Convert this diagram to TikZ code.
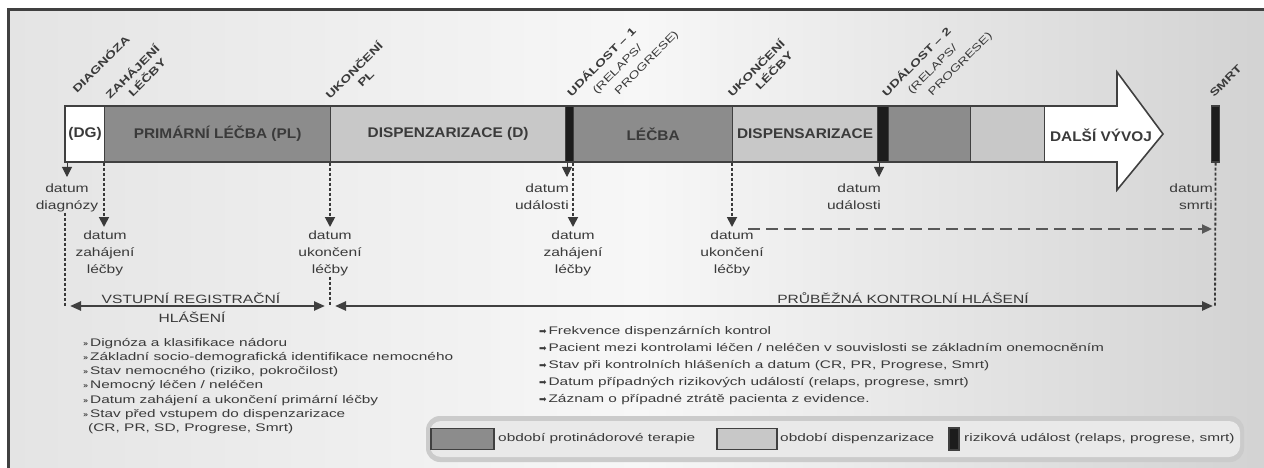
\documentclass[tikz,border=0pt]{standalone}
\usepackage{graphicx}
\usepackage{fontspec}
\setmainfont{Liberation Sans}
\newfontfamily\barfont{Liberation Sans}[FakeStretch=1.1]
\newfontfamily\tagfont{Liberation Sans}[FakeStretch=1.35]
\newfontfamily\datefont{Liberation Sans}[FakeStretch=1.3]
\newfontfamily\listfont{Liberation Sans}[FakeStretch=1.4]
\newfontfamily\symfont{DejaVu Sans}
\usetikzlibrary{arrows.meta}

\definecolor{ink}{HTML}{3A3A3A}
\definecolor{rule}{HTML}{404040}
\definecolor{therapy}{HTML}{8C8C8C}
\definecolor{followup}{HTML}{C8C8C8}
\definecolor{riskev}{HTML}{1C1C1C}
\definecolor{panelL}{HTML}{E4E4E4}
\definecolor{panelM}{HTML}{F7F7F7}
\definecolor{panelR}{HTML}{D2D2D2}
\definecolor{keyrim}{HTML}{CBCBCB}
\definecolor{keyfill}{HTML}{E9E9E9}

\pgfdeclarehorizontalshading{panelshade}{100bp}{color(0bp)=(panelL); color(25bp)=(panelL); color(50bp)=(panelM); color(75bp)=(panelR); color(100bp)=(panelR)}

\newcommand{\rmark}{\mbox{\symfont\fontsize{9}{9}\selectfont ➡}\,}
% entry-report line set to a fixed width, keeping its natural height
\newcommand{\fixedline}[2]{\resizebox{#1}{\height}{#2}}

\tikzset{
  seg/.style={draw=rule, line width=1.2pt, anchor=west, minimum height=56pt, inner sep=0pt,
    font=\barfont\bfseries\fontsize{14}{16}\selectfont, text=ink},
  tag/.style={rotate=45, anchor=base west, inner sep=0pt, align=left,
    font=\tagfont\bfseries\fontsize{10.5}{14}\selectfont, text=ink},
  datelbl/.style={inner sep=0pt, align=center, font=\datefont\fontsize{12}{17}\selectfont, text=ink},
  vdash/.style={draw=ink, line width=1.8pt, dash pattern=on 3pt off 2pt},
  droptip/.style={-{Triangle[width=10pt,length=10pt]}},
  span/.style={draw=rule, line width=2.4pt, {Triangle[width=9pt,length=11pt]}-{Triangle[width=9pt,length=11pt]}},
  phase/.style={inner sep=0pt, anchor=base, font=\datefont\fontsize{12}{14}\selectfont, text=ink},
  itemlist/.style={inner sep=0pt, anchor=north west, align=left, text=ink},
  entryline/.style={inner sep=0pt, anchor=base west, font=\rmfamily\fontsize{11}{13}\selectfont, text=ink},
  bullet/.style={inner sep=0pt, anchor=base east, font=\symfont\bfseries\fontsize{8}{8}\selectfont, text=ink},
  swatch/.style={draw=rule, line width=1.5pt, anchor=west, minimum height=21pt, inner sep=0pt},
  keytext/.style={inner sep=0pt, anchor=west, font=\listfont\fontsize{11}{13}\selectfont, text=ink},
}

\begin{document}
\begin{tikzpicture}[x=1pt,y=-1pt]
\useasboundingbox (0,0) rectangle (1264,468);
\fill[white] (0,0) rectangle (1264,468);
% framed panel
\shade[shading=panelshade] (8,10) rectangle (1272,476);
\draw[draw=rule, line width=3pt] (8,10) rectangle (1272,476);

% timeline arrow
\draw[draw=rule, line width=1.6pt, fill=white, line join=miter]
  (65,106) -- (1117,106) -- (1117,72) -- (1163,134) -- (1117,190) -- (1117,162) -- (65,162) -- cycle;

% periods along the timeline
\node[seg, fill=white, minimum width=39pt] (dg) at (65,134) {(DG)};
\node[seg, fill=therapy, minimum width=226pt] (pl) at (104,134) {PRIMÁRNÍ LÉČBA (PL)};
\node[seg, fill=followup, minimum width=235pt] (disp1) at (330,134) {DISPENZARIZACE (D)};
\node[seg, fill=riskev, minimum width=8pt] (ev1) at (565,134) {};
\node[seg, fill=therapy, minimum width=159pt] (tr2) at (573,134) {LÉČBA};
\node[seg, fill=followup, minimum width=145pt] (disp2) at (732,134) {DISPENSARIZACE};
\node[seg, fill=riskev, minimum width=11pt] (ev2) at (877,134) {};
\node[seg, fill=therapy, minimum width=82pt] (tr3) at (888,134) {};
\node[seg, fill=followup, minimum width=74pt] (disp3) at (970,134) {};
\node[seg, draw=none, anchor=center] (next) at (1101,135) {DALŠÍ VÝVOJ};
\node[seg, fill=riskev, minimum width=8pt] (death) at (1211,134) {};

% milestone captions (anchored at the start of their last line)
\node[tag] (tDiag) at (77,94) {DIAGNÓZA};
\node[tag] (tStart) at (120,110) {ZAHÁJENÍ\\\hspace*{18pt}LÉČBY};
\node[tag] (tEndPL) at (340,110) {UKONČENÍ\\\hspace*{31pt}PL};
\node[tag, font=\tagfont\bfseries\fontsize{10.5}{16}\selectfont] (tEv1) at (594,120)
  {UDÁLOST – 1\\\hspace*{20pt}{\mdseries (RELAPS/}\\\hspace*{35pt}{\mdseries PROGRESE)}};
\node[tag] (tEnd2) at (742,108) {UKONČENÍ\\\hspace*{25pt}LÉČBY};
\node[tag, font=\tagfont\bfseries\fontsize{10.5}{16}\selectfont] (tEv2) at (909,120)
  {UDÁLOST – 2\\\hspace*{20pt}{\mdseries (RELAPS/}\\\hspace*{33pt}{\mdseries PROGRESE)}};
\node[tag] (tDeath) at (1214,98) {SMRT};

% dates below the timeline
\coordinate (dgTip) at (67,177);
\draw[draw=ink, line width=1pt, droptip] (dg.south -| dgTip) -- (dgTip);
\node[datelbl, anchor=north] (dgDate) at (67,184) {datum\\diagnózy};

\coordinate (plTip) at (104,227);
\draw[vdash, droptip] (pl.south west) -- (plTip);
\node[datelbl, anchor=north] (plStart) at (105,231) {datum\\zahájení\\léčby};

\coordinate (plEndTip) at (330,227);
\draw[vdash, droptip] (disp1.south west) -- (plEndTip);
\node[datelbl, anchor=north] (plEnd) at (330,231) {datum\\ukončení\\léčby};

\coordinate (ev1Tip) at (567,177);
\draw[draw=ink, line width=1pt, droptip] (ev1.south -| ev1Tip) -- (ev1Tip);
\node[datelbl, anchor=north east, align=right] (ev1Date) at (569,184) {datum\\události};

\coordinate (tr2Tip) at (573,227);
\draw[vdash, droptip] (tr2.south west) -- (tr2Tip);
\node[datelbl, anchor=north] (tr2Start) at (573,231) {datum\\zahájení\\léčby};

\coordinate (tr2EndTip) at (732,227);
\draw[vdash, droptip] (disp2.south west) -- (tr2EndTip);
\node[datelbl, anchor=north] (tr2End) at (732,231) {datum\\ukončení\\léčby};

\coordinate (ev2Tip) at (879,177);
\draw[draw=ink, line width=1pt, droptip] (ev2.south -| ev2Tip) -- (ev2Tip);
\node[datelbl, anchor=north east, align=right] (ev2Date) at (881,184) {datum\\události};

\node[datelbl, anchor=north east, align=right] (deathDate) at (1213,184) {datum\\smrti};

% follow-up continues until death
\coordinate (fuA) at (748,229);
\coordinate (fuB) at (1212,229);
\draw[draw=ink!85, line width=2.2pt, dash pattern=on 12pt off 6pt, -{Triangle[width=9pt,length=10pt]}] (fuA) -- (fuB);

% reporting phases
\coordinate (regL) at (65,306);
\coordinate (split) at (330,306);
\coordinate (deathEnd) at (1215,306);
\draw[vdash] (dgDate.south -| regL) -- (regL);
\draw[vdash] (plEnd.south) -- (split);
\draw[vdash] (death.south) -- (deathEnd);

\coordinate (regA) at (70,306);
\coordinate (regB) at (325,306);
\coordinate (runA) at (335,306);
\coordinate (runB) at (1213,306);
\draw[span] (regA) -- (regB);
\draw[span] (runA) -- (runB);
\node[phase] (regTitle) at (191,303) {VSTUPNÍ REGISTRAČNÍ};
\node[phase] (regTitleB) at (192,322) {HLÁŠENÍ};
\node[phase] (runTitle) at (903,303) {PRŮBĚŽNÁ KONTROLNÍ HLÁŠENÍ};

% contents of the entry report
\node[entryline] (en1) at (90,346) {\fixedline{197pt}{Dignóza a klasifikace nádoru}};
\node[entryline] (en2) at (90,360.3) {\fixedline{363pt}{Základní socio-demografická identifikace nemocného}};
\node[entryline] (en3) at (90,374.6) {\fixedline{248pt}{Stav nemocného (riziko, pokročilost)}};
\node[entryline] (en4) at (90,388.9) {\fixedline{173pt}{Nemocný léčen / neléčen}};
\node[entryline] (en5) at (90,403.2) {\fixedline{288pt}{Datum zahájení a ukončení primární léčby}};
\node[entryline] (en6) at (90,417.5) {\fixedline{255pt}{Stav před vstupem do dispenzarizace}};
\node[entryline] (en7) at (88,431.8) {\fixedline{205pt}{(CR, PR, SD, Progrese, Smrt)}};
\node[bullet] (bu1) at (en1.base west) [xshift=-1.5pt] {»};
\node[bullet] (bu2) at (en2.base west) [xshift=-1.5pt] {»};
\node[bullet] (bu3) at (en3.base west) [xshift=-1.5pt] {»};
\node[bullet] (bu4) at (en4.base west) [xshift=-1.5pt] {»};
\node[bullet] (bu5) at (en5.base west) [xshift=-1.5pt] {»};
\node[bullet] (bu6) at (en6.base west) [xshift=-1.5pt] {»};

% contents of the follow-up reports
\node[itemlist, font=\listfont\fontsize{11}{17}\selectfont] (followList) at (539,326) {%
  \rmark Frekvence dispenzárních kontrol\\
  \rmark Pacient mezi kontrolami léčen / neléčen v souvislosti se základním onemocněním\\
  \rmark Stav při kontrolních hlášeních a datum (CR, PR, Progrese, Smrt)\\
  \rmark Datum případných rizikových událostí (relaps, progrese, smrt)\\
  \rmark Záznam o případné ztrátě pacienta z evidence.};

% legend
\fill[keyrim, rounded corners=14pt] (426,416) rectangle (1244,462);
\fill[keyfill, rounded corners=11pt] (430,421) rectangle (1240,457);
\node[swatch, fill=therapy, minimum width=63pt] (keyTher) at (430,439) {};
\node[keytext] (keyTherTxt) at (498,439) {období protinádorové terapie};
\node[swatch, fill=followup, minimum width=60pt] (keyDisp) at (716,439) {};
\node[keytext] (keyDispTxt) at (780,439) {období dispenzarizace};
\node[swatch, fill=riskev, minimum width=10pt, minimum height=22pt] (keyEv) at (948,439) {};
\node[keytext] (keyEvTxt) at (964,439) {riziková událost (relaps, progrese, smrt)};
\end{tikzpicture}
\end{document}
